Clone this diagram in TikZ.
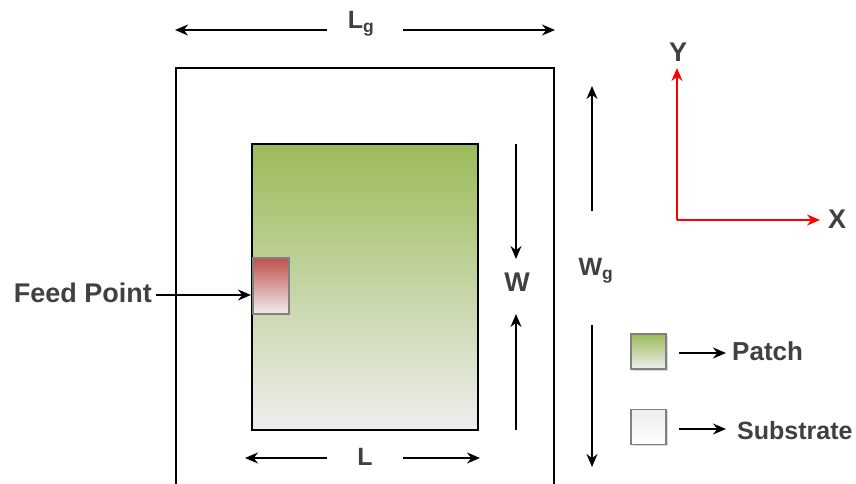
\documentclass[tikz,border=0pt]{standalone}
\usepackage{fontspec}
\setmainfont{Liberation Sans}
\usetikzlibrary{arrows.meta,shadows}
\definecolor{txt}{RGB}{64,64,64}
\definecolor{patchg}{RGB}{155,187,89}
\definecolor{subg}{RGB}{238,238,238}
\definecolor{feedr}{RGB}{192,80,77}
\tikzset{
 dim/.style={draw=black,line width=1.7pt,-{Stealth[length=13pt,width=11pt]}},
 axis/.style={draw=red,line width=1.7pt,-{Stealth[length=13pt,width=11pt]}},
 lbl/.style={font=\bfseries\fontsize{25}{28}\selectfont,text=txt,inner sep=0pt},
 big/.style={font=\bfseries\fontsize{27}{30}\selectfont,text=txt,inner sep=0pt},
 soft/.style={drop shadow={shadow xshift=1.5pt,shadow yshift=-1.5pt,fill=black,opacity=0.15}},
 swatch/.style={draw=gray,line width=1.5pt,minimum width=35pt,minimum height=35pt,inner sep=0pt,soft},
}
\begin{document}
\begin{tikzpicture}[x=1pt,y=-1pt]
\useasboundingbox (0,0) rectangle (856,484);
\path[clip] (0,0) rectangle (856,484);
% ground
\node[draw=black,line width=1.7pt,minimum width=378pt,minimum height=440pt,anchor=north west,inner sep=0pt] (ground) at (175.3,67.3) {};
% patch
\node[draw=black,line width=1.7pt,top color=patchg,bottom color=subg,minimum width=226pt,minimum height=286pt,anchor=north west,inner sep=0pt] (patch) at (251.3,143.3) {};
% feed
\node[draw=gray,line width=1.5pt,top color=feedr,bottom color=subg,minimum width=36pt,minimum height=56pt,anchor=north west,inner sep=0pt,soft] (feed) at (252,257) {};
% Labels
\node[lbl] (lg) at (361,24) {L\textsubscript{g}};
\node[lbl] (wg) at (596,271) {W\textsubscript{g}};
\node[big] (w) at (517,282) {W};
\node[lbl] (l) at (365,457) {L};
\node[big,anchor=east] (fp) at (152,293) {Feed Point};
\node[big] (y) at (678,52) {Y};
\node[big] (x) at (837,219) {X};
\node[font=\bfseries\fontsize{26}{28}\selectfont,text=txt,inner sep=0pt,anchor=west] (pt) at (732,351) {Patch};
\node[lbl,anchor=west] (st) at (737,431) {Substrate};
% Swatches
\node[swatch,top color=patchg,bottom color=subg] (s1) at (648.5,351.5) {};
\node[swatch,top color=subg,bottom color=white] (s2) at (648.5,427) {};
% coordinates
\coordinate (lgl) at (175,30); \coordinate (lgla) at (327,30);
\coordinate (lgr) at (555,30); \coordinate (lgra) at (403,30);
\coordinate (wgt) at (592,86); \coordinate (wgta) at (592,211);
\coordinate (wgb) at (592,467); \coordinate (wgba) at (592,325);
\coordinate (wt) at (516,259); \coordinate (wta) at (516,144);
\coordinate (wb) at (516,314); \coordinate (wba) at (516,430);
\coordinate (ll) at (245,458); \coordinate (lla) at (327,458);
\coordinate (lr) at (480,458); \coordinate (lra) at (403,458);
\coordinate (o) at (677,220); \coordinate (ya) at (677,68); \coordinate (xa) at (820,220);
\coordinate (fa) at (156,295); \coordinate (fb) at (251,295);
\coordinate (pa) at (679,353); \coordinate (pb) at (726,353);
\coordinate (sa) at (679,429); \coordinate (sb) at (726,429);
\draw[dim] (lgla) -- (lgl);
\draw[dim] (lgra) -- (lgr);
\draw[dim] (wgta) -- (wgt);
\draw[dim] (wgba) -- (wgb);
\draw[dim] (wta) -- (wt);
\draw[dim] (wba) -- (wb);
\draw[dim] (lla) -- (ll);
\draw[dim] (lra) -- (lr);
\draw[dim] (fa) -- (fb);
\draw[axis] (o) -- (ya);
\draw[axis] (o) -- (xa);
\draw[dim] (pa) -- (pb);
\draw[dim] (sa) -- (sb);
\end{tikzpicture}
\end{document}
